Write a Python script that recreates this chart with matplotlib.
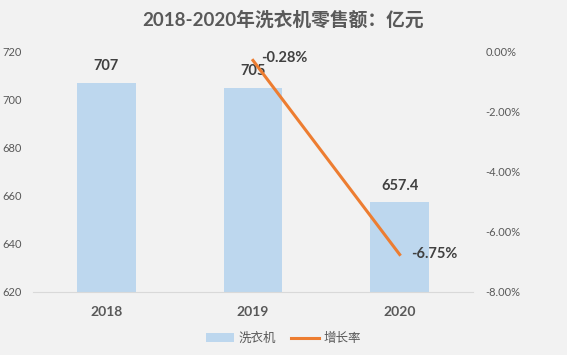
import numpy as np
import matplotlib.pyplot as plt

plt.rcParams['font.family'] = ['Lato', 'Noto Sans CJK SC', 'DejaVu Sans']

# data
years = ['2018', '2019', '2020']
sales = [707, 705, 657.4]
growth_years = ['2019', '2020']
growth = [-0.28, -6.75]  # percent

BG = '#F2F2F2'
TXT = '#595959'
BAR_C = '#BDD7EE'
LINE_C = '#ED7D31'

fig = plt.figure(figsize=(5.67, 3.55), dpi=100, facecolor=BG)
ax = fig.add_axes([33 / 567, 1 - 292 / 355, 440 / 567, 240 / 355])
ax.set_facecolor(BG)

x = np.arange(len(years))
bars = ax.bar(x, sales, width=0.4, color=BAR_C, label='洗衣机', zorder=2)
ax.set_ylim(620, 720)
ax.set_xlim(-0.5, len(years) - 0.5)
ax.set_yticks(np.arange(620, 721, 20))
ax.set_xticks(x)
ax.set_xticklabels(years, fontsize=10, fontweight='bold', color=TXT)
ax.tick_params(axis='y', length=0, labelsize=8, labelcolor=TXT, pad=8)
ax.tick_params(axis='x', length=0, pad=10)
for s in ['top', 'right', 'left']:
    ax.spines[s].set_visible(False)
ax.spines['bottom'].set_color('#D9D9D9')

for xi, v in zip(x, sales):
    ax.annotate(f'{v:g}', xy=(xi, v), xytext=(0, 7), textcoords='offset points',
                ha='center', va='bottom', fontsize=10.5, fontweight='bold', color='#404040')

ax2 = ax.twinx()
gx = [years.index(y) for y in growth_years]
ax2.plot(gx, growth, color=LINE_C, lw=2.2, label='增长率', zorder=3)
ax2.set_ylim(-8, 0)
ax2.set_yticks(np.arange(-8, 0.1, 2))
ax2.set_yticklabels([f'{t:.2f}%' for t in np.arange(-8, 0.1, 2)])
ax2.tick_params(axis='y', length=0, labelsize=8, labelcolor=TXT, pad=9)
for s in ax2.spines.values():
    s.set_visible(False)

ax2.annotate(f'{growth[0]:.2f}%', xy=(gx[0], growth[0]), xytext=(6, 2),
             textcoords='offset points', ha='left', va='center',
             fontsize=10.5, fontweight='bold', color='#404040')
ax2.annotate(f'{growth[1]:.2f}%', xy=(gx[1], growth[1]), xytext=(8, 0),
             textcoords='offset points', ha='left', va='center',
             fontsize=10.5, fontweight='bold', color='#404040')

fig.text(0.5, 1 - 20 / 355, '2018-2020年洗衣机零售额：亿元', ha='center', va='center',
         fontsize=13.5, fontweight='bold', color=TXT)

h1, l1 = ax.get_legend_handles_labels()
h2, l2 = ax2.get_legend_handles_labels()
fig.legend(h1 + h2, l1 + l2, loc='center', bbox_to_anchor=(0.5, 1 - 338 / 355),
           ncol=2, frameon=False, fontsize=9, labelcolor=TXT,
           handlelength=2.2, columnspacing=1.2, handletextpad=0.4)

fig.savefig('out.png', dpi=100, facecolor=BG)
